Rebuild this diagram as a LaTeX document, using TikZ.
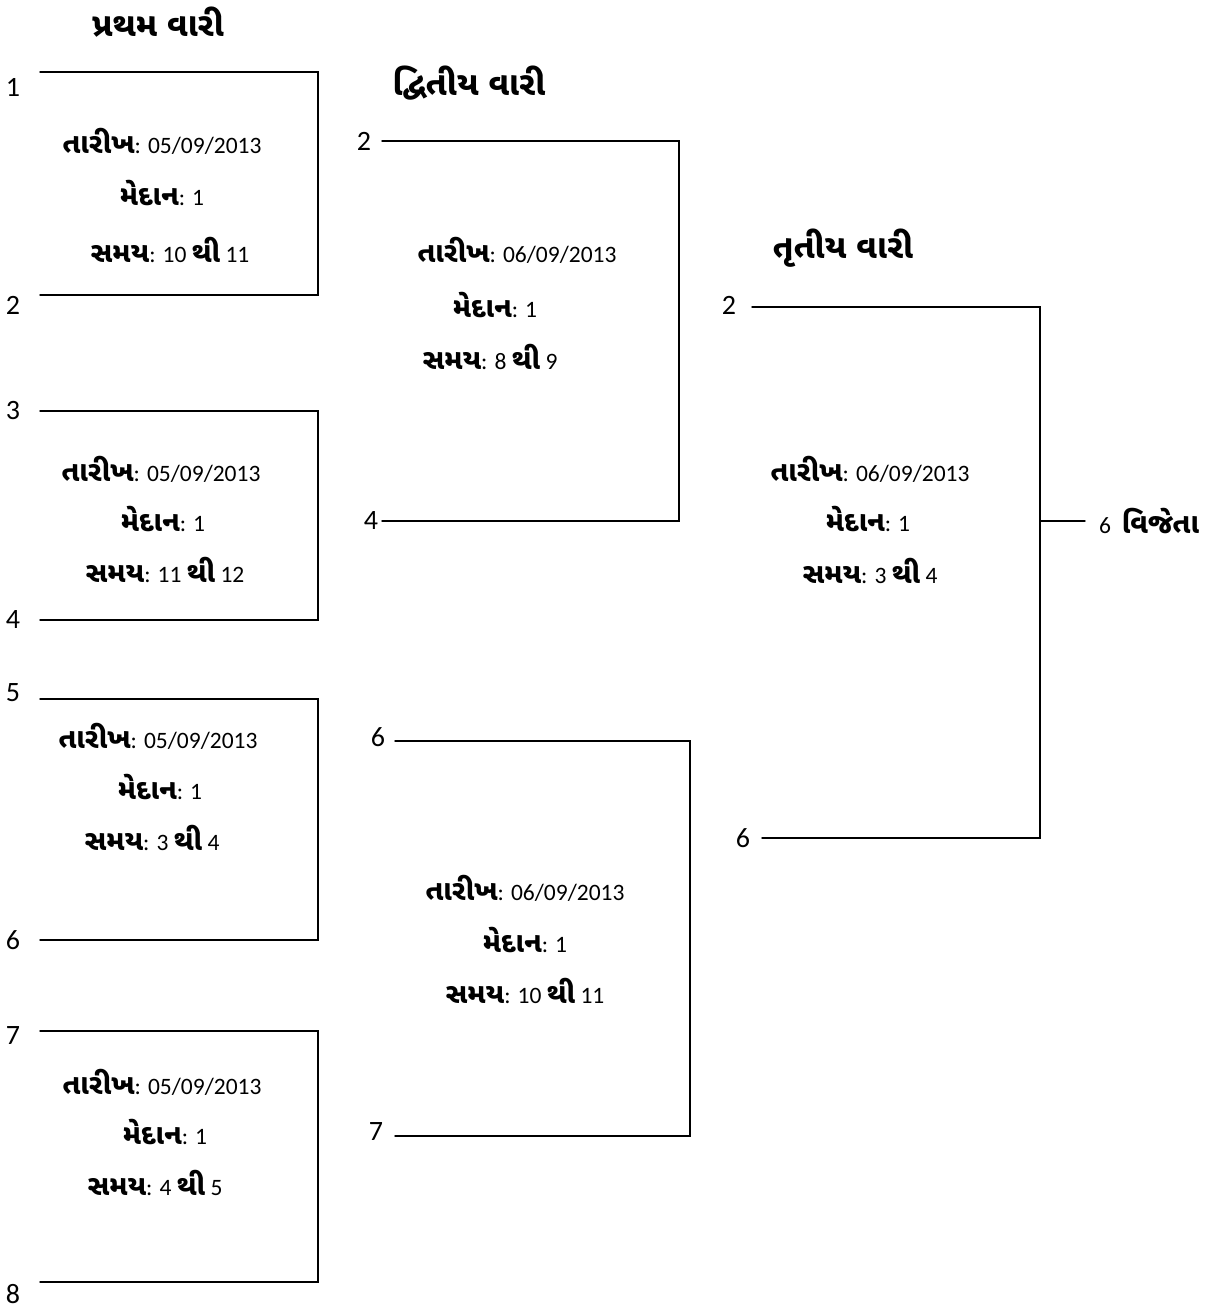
\documentclass[tikz,border=0pt]{standalone}
\usepackage{fontspec}
\setmainfont{Carlito}
\newfontfamily\guj[Script=Gujarati,Scale=1.2]{Noto Sans Gujarati UI}
\begin{document}
\begin{tikzpicture}[x=1pt,y=-1pt,
  line/.style={line width=1.4pt,line cap=round,line join=miter},
  num/.style={font=\fontsize{28}{28}\selectfont,inner sep=0pt},
  info/.style={font=\fontsize{23.5}{24}\selectfont,inner sep=0pt},
  head/.style={font=\fontsize{27.5}{28}\selectfont\guj\bfseries,inner sep=0pt}]
\useasboundingbox (0,0) rectangle (1205,1309);
\newcommand{\G}[1]{{\guj\bfseries #1}}
% headers
\node[head] (h1) at (158,22) {પ્રથમ વારી};
\node[head] (h2) at (469,83) {દ્વિતીય વારી};
\node[head] (h3) at (843,248) {તૃતીય વારી};
% round 1 labels
\node[num] (p1) at (13,87) {1};
\node[num] (p2) at (13,305) {2};
\node[num] (p3) at (13,411) {3};
\node[num] (p4) at (13,620) {4};
\node[num] (p5) at (13,693) {5};
\node[num] (p6) at (13,940) {6};
\node[num] (p7) at (13,1036) {7};
\node[num] (p8) at (13,1294) {8};
% round 1 brackets
\coordinate (a1) at (40,72);  \coordinate (b1) at (318,72);
\coordinate (a2) at (40,295); \coordinate (b2) at (318,295);
\coordinate (a3) at (40,411); \coordinate (b3) at (318,411);
\coordinate (a4) at (40,620); \coordinate (b4) at (318,620);
\coordinate (a5) at (40,699); \coordinate (b5) at (318,699);
\coordinate (a6) at (40,940); \coordinate (b6) at (318,940);
\coordinate (a7) at (40,1031); \coordinate (b7) at (318,1031);
\coordinate (a8) at (40,1282); \coordinate (b8) at (318,1282);
\draw[line] (a1) -- (b1) -- (b2) -- (a2);
\draw[line] (a3) -- (b3) -- (b4) -- (a4);
\draw[line] (a5) -- (b5) -- (b6) -- (a6);
\draw[line] (a7) -- (b7) -- (b8) -- (a8);
% round 1 info
\node[info] (t1a) at (162,141) {\G{તારીખ}: 05/09/2013};
\node[info] (t1b) at (162,193) {\G{મેદાન}: 1};
\node[info] (t1c) at (170,250) {\G{સમય}: 10 \G{થી} 11};
\node[info] (t2a) at (161,469) {\G{તારીખ}: 05/09/2013};
\node[info] (t2b) at (163,519) {\G{મેદાન}: 1};
\node[info] (t2c) at (165,570) {\G{સમય}: 11 \G{થી} 12};
\node[info] (t3a) at (158,736) {\G{તારીખ}: 05/09/2013};
\node[info] (t3b) at (160,787) {\G{મેદાન}: 1};
\node[info] (t3c) at (152,838) {\G{સમય}: 3 \G{થી} 4};
\node[info] (t4a) at (162,1082) {\G{તારીખ}: 05/09/2013};
\node[info] (t4b) at (165,1132) {\G{મેદાન}: 1};
\node[info] (t4c) at (155,1183) {\G{સમય}: 4 \G{થી} 5};
% round 2
\node[num] (q1) at (364,141) {2};
\node[num] (q2) at (371,521) {4};
\node[num] (q3) at (378,737) {6};
\node[num] (q4) at (376,1132) {7};
\coordinate (c1) at (382,141); \coordinate (d1) at (679,141);
\coordinate (c2) at (382,521); \coordinate (d2) at (679,521);
\coordinate (c3) at (395,741); \coordinate (d3) at (690,741);
\coordinate (c4) at (395,1136); \coordinate (d4) at (690,1136);
\draw[line] (c1) -- (d1) -- (d2) -- (c2);
\draw[line] (c3) -- (d3) -- (d4) -- (c4);
\node[info] (u1a) at (517,250) {\G{તારીખ}: 06/09/2013};
\node[info] (u1b) at (495,305) {\G{મેદાન}: 1};
\node[info] (u1c) at (490,357) {\G{સમય}: 8 \G{થી} 9};
\node[info] (u2a) at (525,888) {\G{તારીખ}: 06/09/2013};
\node[info] (u2b) at (525,940) {\G{મેદાન}: 1};
\node[info] (u2c) at (525,991) {\G{સમય}: 10 \G{થી} 11};
% round 3
\node[num] (r1) at (729,305) {2};
\node[num] (r2) at (743,838) {6};
\coordinate (e1) at (752,307); \coordinate (f1) at (1040,307);
\coordinate (e2) at (762,838); \coordinate (f2) at (1040,838);
\draw[line] (e1) -- (f1) -- (f2) -- (e2);
\node[info] (v1) at (870,469) {\G{તારીખ}: 06/09/2013};
\node[info] (v2) at (868,519) {\G{મેદાન}: 1};
\node[info] (v3) at (870,571) {\G{સમય}: 3 \G{થી} 4};
% winner
\coordinate (w0) at (1040,521); \coordinate (w1) at (1085,521);
\draw[line] (w0) -- (w1);
\node[info,anchor=west] (win) at (1099,521) {6\ \ \G{વિજેતા}};
\end{tikzpicture}
\end{document}
